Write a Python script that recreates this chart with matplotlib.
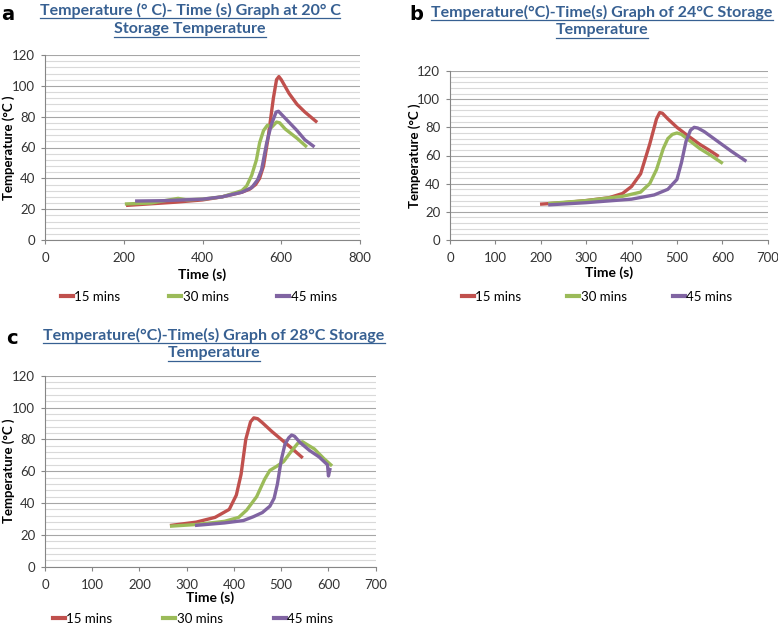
import matplotlib.pyplot as plt
from matplotlib.lines import Line2D
from matplotlib.ticker import MultipleLocator

plt.rcParams['font.family'] = ['Lato', 'DejaVu Sans']

# colours of the three series (old Excel palette)
colors = ['#C0504D', '#9BBB59', '#8064A2']
labels = ['15 mins', '30 mins', '45 mins']

# ---- panel a : 20 C storage ----
a_x15 = [210, 270, 330, 400, 450, 500, 520, 535, 545, 555, 567, 580, 588, 594, 600, 620, 640, 660, 688]
a_y15 = [22.5, 23.5, 24.5, 26, 28, 31, 33, 36, 40, 48, 67, 92, 104, 106, 104, 95, 88, 83, 77]
a_x30 = [207, 270, 338, 360, 400, 450, 500, 512, 525, 537, 545, 555, 565, 575, 588, 596, 610, 640, 662]
a_y30 = [23.4, 24, 27, 26, 26.5, 28, 32, 35, 42, 52, 63, 71, 74.5, 73, 76.5, 76, 72, 66, 61]
a_x45 = [233, 300, 350, 400, 450, 500, 525, 540, 550, 563, 575, 587, 593, 610, 640, 660, 681]
a_y45 = [25.3, 25.5, 26, 26.5, 28, 31, 34, 39, 45.5, 63, 75, 83, 83.5, 79, 71, 65, 61]

# ---- panel b : 24 C storage ----
b_x15 = [202, 250, 300, 350, 380, 400, 420, 440, 455, 462, 468, 480, 500, 520, 550, 570, 589]
b_y15 = [25.5, 26.5, 28, 30, 33, 38, 47, 68, 86, 90.5, 90, 86, 80, 75, 68, 64, 60]
b_x30 = [220, 300, 380, 420, 440, 455, 470, 480, 490, 500, 510, 520, 550, 575, 598]
b_y30 = [26, 28, 31, 34, 40, 50, 65, 72, 75, 76, 75, 72.5, 65, 60, 55]
b_x45 = [220, 300, 400, 450, 480, 500, 510, 520, 530, 538, 546, 560, 590, 620, 650]
b_y45 = [25, 26.5, 29, 32, 36, 43, 55, 70, 78, 80, 79.5, 77, 70, 63, 56.5]

# ---- panel c : 28 C storage ----
c_x15 = [268, 320, 360, 390, 405, 415, 425, 435, 442, 450, 460, 480, 500, 520, 543]
c_y15 = [26, 28, 31, 36, 45, 58, 80, 91, 93.5, 93, 90.5, 85, 80, 75, 69]
c_x30 = [268, 320, 380, 410, 427, 448, 465, 476, 490, 505, 520, 535, 545, 570, 590, 605]
c_y30 = [25.5, 26.5, 28.5, 31, 35.6, 44, 55, 60.5, 63, 66, 72, 77.5, 78.5, 74, 68, 64]
c_x45 = [321, 380, 420, 441, 460, 476, 485, 492, 500, 508, 516, 522, 528, 540, 560, 580, 598, 600, 603]
c_y45 = [26, 27.5, 29, 31.4, 34, 38, 43, 52, 67, 77, 81, 82.7, 82, 78, 73, 69, 64, 57, 61]

W, H = 778, 626
fig = plt.figure(figsize=(W / 100, H / 100), dpi=100)


def px(x, y):
    # pixel position (from top-left) -> figure fraction
    return x / W, 1 - y / H


def draw_panel(rect, xs, ys, xmax, xstep):
    ax = fig.add_axes(rect)
    for x, y, c, l in zip(xs, ys, colors, labels):
        ax.plot(x, y, color=c, lw=2.4, label=l, solid_joinstyle='round')
    ax.set_xlim(0, xmax)
    ax.set_ylim(0, 120)
    ax.xaxis.set_major_locator(MultipleLocator(xstep))
    ax.yaxis.set_major_locator(MultipleLocator(20))
    ax.yaxis.set_minor_locator(MultipleLocator(4))
    ax.grid(axis='y', which='major', color='#a6a6a6', lw=0.8)
    ax.grid(axis='y', which='minor', color='#d9d9d9', lw=0.8)
    ax.set_axisbelow(True)
    for s in ['top', 'right']:
        ax.spines[s].set_visible(False)
    for s in ['left', 'bottom']:
        ax.spines[s].set_color('#868686')
        ax.spines[s].set_linewidth(0.8)
    ax.tick_params(which='major', direction='out', length=3, color='#868686',
                   labelsize=9.5, labelcolor='#333333')
    ax.tick_params(axis='x', pad=6)
    ax.tick_params(axis='y', pad=4)
    ax.tick_params(which='minor', length=0)
    ax.set_xlabel('Time (s)', fontsize=10, fontweight='bold')
    ax.set_ylabel('Temperature (°C )', fontsize=9.5, fontweight='bold')
    return ax


def title_line(cx, cy, s):
    x, y = px(cx, cy)
    return fig.text(x, y, s, ha='center', va='center', fontsize=11.5,
                    fontweight='bold', color='#376092')


ax_a = draw_panel([45 / W, 1 - 240 / H, 315 / W, 185 / H],
                  [a_x15, a_x30, a_x45], [a_y15, a_y30, a_y45], 800, 200)
ax_b = draw_panel([450 / W, 1 - 240 / H, 317.7 / W, 169 / H],
                  [b_x15, b_x30, b_x45], [b_y15, b_y30, b_y45], 700, 100)
ax_c = draw_panel([45 / W, 1 - 566.7 / H, 330.7 / W, 191 / H],
                  [c_x15, c_x30, c_x45], [c_y15, c_y30, c_y45], 700, 100)

# axis label positions in pixels: right edge of ylabel, top of xlabel
for ax, left, top, bottom, ylx, xly in [(ax_a, 45, 55, 240, 15, 268),
                                        (ax_b, 450, 71, 240, 421, 266),
                                        (ax_c, 45, 376, 567, 15, 592)]:
    ax.yaxis.set_label_coords((ylx - left) / ax.bbox.width, 0.5)
    ax.xaxis.set_label_coords(0.5, -(xly - bottom) / (bottom - top))

titles = [
    title_line(190, 10, 'Temperature (° C)- Time (s) Graph at 20° C'),
    title_line(190, 29, 'Storage Temperature'),
    title_line(602, 12, 'Temperature(°C)-Time(s) Graph of 24°C Storage'),
    title_line(602, 30, 'Temperature'),
    title_line(214, 335, 'Temperature(°C)-Time(s) Graph of 28°C Storage'),
    title_line(214, 353, 'Temperature'),
]

# panel letters
for letter, (lx, ly) in zip('abc', [(8, 15), (416, 15), (12, 338)]):
    x, y = px(lx, ly)
    fig.text(x, y, letter, fontsize=14, fontweight='bold', family='DejaVu Sans',
             ha='center', va='center')

# legends below each chart
for ax, (lx, ly), cs in zip([ax_a, ax_b, ax_c], [(199, 297), (597, 297), (193, 619)],
                            [3.7, 3.5, 3.9]):
    leg = ax.legend(loc='center', bbox_to_anchor=px(lx, ly), bbox_transform=fig.transFigure,
                    ncol=3, frameon=False, fontsize=9.5, handlelength=0.9, handletextpad=0.1,
                    columnspacing=cs, borderpad=0)
    for h in leg.get_lines():
        h.set_linewidth(3)

# underline the titles
fig.canvas.draw()
inv = fig.transFigure.inverted()
for t in titles:
    bb = t.get_window_extent()
    (x0, y0), (x1, y1) = inv.transform([[bb.x0, bb.y0], [bb.x1, bb.y1]])
    fig.add_artist(Line2D([x0, x1], [y0 - 0.5 / H, y0 - 0.5 / H],
                          color='#376092', lw=0.9))

fig.savefig('out.png', dpi=100)
